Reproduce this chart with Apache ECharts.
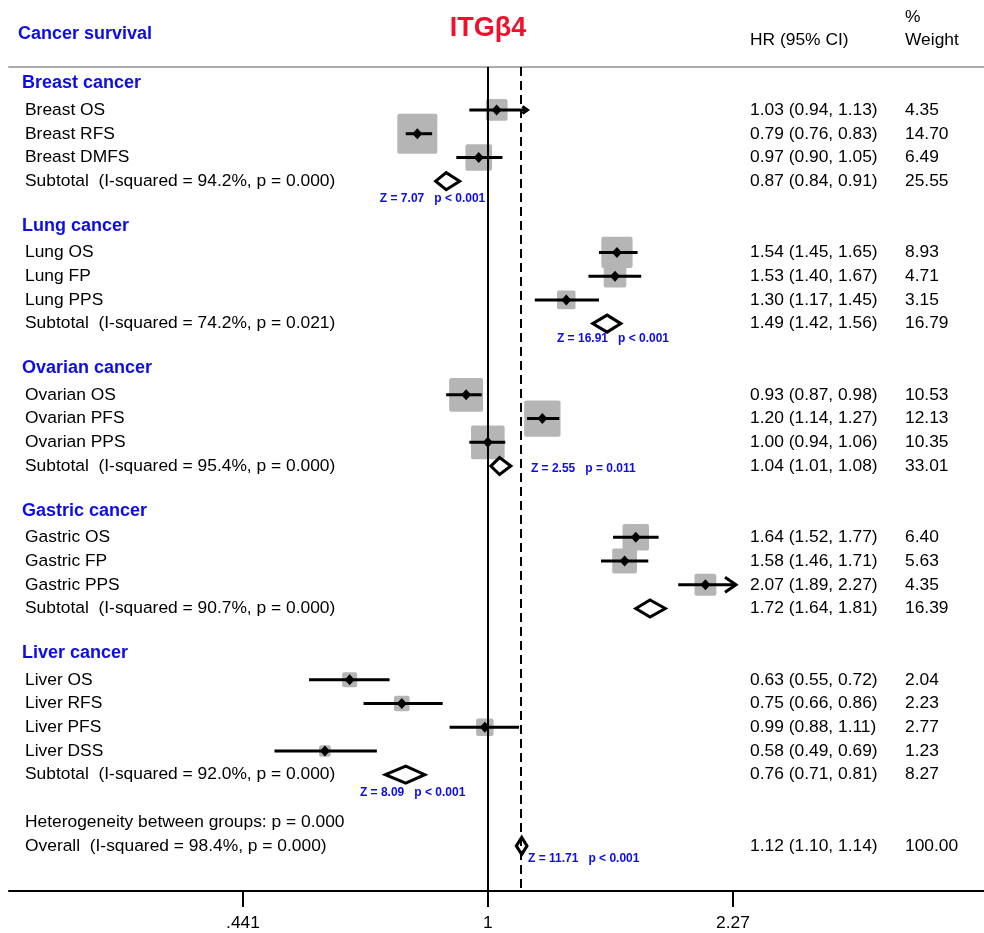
<!DOCTYPE html>
<html>
<head>
<meta charset="utf-8">
<script src="https://cdn.jsdelivr.net/npm/echarts@6/dist/echarts.min.js"></script>
<style>
html,body{margin:0;padding:0;background:#fff;}
#chart{width:984px;height:933px;}
</style>
</head>
<body>
<div id="chart"></div>
<script>
// ---------------- DATA ----------------
const groupNames = ['Breast cancer', 'Lung cancer', 'Ovarian cancer', 'Gastric cancer', 'Liver cancer'];
const studyNames = ['Breast OS', 'Breast RFS', 'Breast DMFS',
  'Lung OS', 'Lung FP', 'Lung PPS',
  'Ovarian OS', 'Ovarian PFS', 'Ovarian PPS',
  'Gastric OS', 'Gastric FP', 'Gastric PPS',
  'Liver OS', 'Liver RFS', 'Liver PFS', 'Liver DSS'];
const studyGroup = [0, 0, 0, 1, 1, 1, 2, 2, 2, 3, 3, 3, 4, 4, 4, 4];
const studyHR = [1.03, 0.79, 0.97, 1.54, 1.53, 1.30, 0.93, 1.20, 1.00, 1.64, 1.58, 2.07, 0.63, 0.75, 0.99, 0.58];
const studyLow = [0.94, 0.76, 0.90, 1.45, 1.40, 1.17, 0.87, 1.14, 0.94, 1.52, 1.46, 1.89, 0.55, 0.66, 0.88, 0.49];
const studyHigh = [1.13, 0.83, 1.05, 1.65, 1.67, 1.45, 0.98, 1.27, 1.06, 1.77, 1.71, 2.27, 0.72, 0.86, 1.11, 0.69];
const studyWeight = [4.35, 14.70, 6.49, 8.93, 4.71, 3.15, 10.53, 12.13, 10.35, 6.40, 5.63, 4.35, 2.04, 2.23, 2.77, 1.23];

const subtotalHR = [0.87, 1.49, 1.04, 1.72, 0.76];
const subtotalLow = [0.84, 1.42, 1.01, 1.64, 0.71];
const subtotalHigh = [0.91, 1.56, 1.08, 1.81, 0.81];
const subtotalWeight = [25.55, 16.79, 33.01, 16.39, 8.27];
const subtotalI2 = ['94.2%', '74.2%', '95.4%', '90.7%', '92.0%'];
const subtotalP = ['0.000', '0.021', '0.000', '0.000', '0.000'];
const subtotalZ = ['Z = 7.07   p < 0.001', 'Z = 16.91   p < 0.001', 'Z = 2.55   p = 0.011', '', 'Z = 8.09   p < 0.001'];

const heterogeneityP = '0.000';
const overallHR = 1.12, overallLow = 1.10, overallHigh = 1.14, overallWeight = 100.00;
const overallI2 = '98.4%', overallP = '0.000';
const overallZ = 'Z = 11.71   p < 0.001';

const tickValues = [0.441, 1, 2.27];
const tickLabels = ['.441', '1', '2.27'];
const arrowStudies = ['Breast OS', 'Gastric PPS'];

// ---------------- LAYOUT (not data) ----------------
const FONT = "'Liberation Sans', Arial, sans-serif";
const BLUE = '#0c0ce8';
const RED = '#f0102c';
const X_MIN = -1.601, X_MAX = 1.659;     // ln(HR) range of the plot area
const Y_MIN = -0.81, Y_MAX = 33.9;       // row range
const SQUARE_SCALE = 10.45;               // px per sqrt(weight)
const zAnchors = [ {hr: 0.697, dy: 0.72}, {hr: 1.26, dy: 0.63}, {hr: 1.155, dy: 0.13}, null, {hr: 0.652, dy: 0.76} ];
const overallZAnchor = {hr: 1.144, dy: 0.55};
const HR_COL_X = 750, W_COL_X = 905;
const BODY_SIZE = 17.4;

// ---------------- BUILD ROWS ----------------
const fmt = v => v.toFixed(2);
const rows = [];
let r = 0;
groupNames.forEach((g, gi) => {
  rows.push({row: r++, kind: 'group', label: g});
  studyNames.forEach((n, si) => {
    if (studyGroup[si] === gi) {
      rows.push({row: r++, kind: 'study', label: n, hr: studyHR[si], lo: studyLow[si], hi: studyHigh[si], w: studyWeight[si], arrow: arrowStudies.indexOf(n)});
    }
  });
  rows.push({row: r++, kind: 'subtotal', label: 'Subtotal  (I-squared = ' + subtotalI2[gi] + ', p = ' + subtotalP[gi] + ')',
    hr: subtotalHR[gi], lo: subtotalLow[gi], hi: subtotalHigh[gi], w: subtotalWeight[gi], z: subtotalZ[gi], za: zAnchors[gi]});
  r++;
});
rows.push({row: r++, kind: 'text', label: 'Heterogeneity between groups: p = ' + heterogeneityP});
rows.push({row: r++, kind: 'overall', label: 'Overall  (I-squared = ' + overallI2 + ', p = ' + overallP + ')',
  hr: overallHR, lo: overallLow, hi: overallHigh, w: overallWeight, z: overallZ, za: overallZAnchor});

const L = Math.log;
const rowData = rows.map((o, i) => [o.hr ? L(o.hr) : 0, o.row, i]);
const studyData = rows.filter(o => o.kind === 'study').map(o => [L(o.hr), o.row, L(o.lo), L(o.hi), o.w, o.arrow]);
const diamondData = rows.filter(o => o.kind === 'subtotal' || o.kind === 'overall').map(o => [L(o.hr), o.row, L(o.lo), L(o.hi), o.kind === 'overall' ? 1 : 0]);

// ---------------- RENDERERS ----------------
function renderSquare(params, api) {
  const c = api.coord([api.value(0), api.value(1)]);
  const s = SQUARE_SCALE * Math.sqrt(api.value(4));
  return {type: 'rect', shape: {x: c[0] - s / 2, y: c[1] - s / 2, width: s, height: s, r: 2}, style: {fill: '#b5b5b5'}};
}
function renderCI(params, api) {
  const y = api.value(1);
  const a = api.coord([api.value(2), y]);
  const b = api.coord([api.value(3), y]);
  const m = api.coord([api.value(0), y]);
  const children = [
    {type: 'line', shape: {x1: a[0], y1: a[1], x2: b[0], y2: b[1]}, style: {stroke: '#000', lineWidth: 3}},
    {type: 'polygon', shape: {points: [[m[0] - 5, m[1]], [m[0], m[1] - 5.5], [m[0] + 5, m[1]], [m[0], m[1] + 5.5]]}, style: {fill: '#000'}}
  ];
  const arrow = api.value(5);
  if (arrow >= 0) {
    const hx = arrow === 0 ? 5 : 11, hy = arrow === 0 ? 3.5 : 7.5;
    const tip = b[0] + 3;
    children.push({type: 'line', shape: {x1: b[0], y1: b[1], x2: tip, y2: b[1]}, style: {stroke: '#000', lineWidth: 3}});
    children.push({type: 'polyline', shape: {points: [[tip - hx, b[1] - hy], [tip, b[1]], [tip - hx, b[1] + hy]]}, style: {stroke: '#000', lineWidth: 3, fill: null}});
  }
  return {type: 'group', children: children};
}
function renderDiamond(params, api) {
  const y = api.value(1);
  const a = api.coord([api.value(2), y]);
  const b = api.coord([api.value(3), y]);
  const m = api.coord([api.value(0), y]);
  const h = 8.5;
  return {type: 'polygon', shape: {points: [[a[0], a[1]], [m[0], m[1] - h], [b[0], b[1]], [m[0], m[1] + h]]},
    style: {fill: api.value(4) ? 'rgba(255,255,255,0)' : '#fff', stroke: '#000', lineWidth: 3, lineJoin: 'miter'}};
}
function txt(x, y, text, opt) {
  return {type: 'text', x: x, y: y, style: Object.assign({text: text, fill: '#000', fontSize: BODY_SIZE, fontFamily: FONT, align: 'left', verticalAlign: 'middle'}, opt || {})};
}
function renderText(params, api) {
  const o = rows[api.value(2)];
  const c = api.coord([X_MIN, o.row]);
  const y = c[1];
  const children = [];
  if (o.kind === 'group') {
    children.push(txt(22, y - 3, o.label, {fill: BLUE, fontWeight: 'bold', fontSize: 18}));
  } else {
    children.push(txt(25, y, o.label));
  }
  if (o.hr) {
    children.push(txt(HR_COL_X, y, fmt(o.hr) + ' (' + fmt(o.lo) + ', ' + fmt(o.hi) + ')'));
    children.push(txt(W_COL_X, y, fmt(o.w)));
  }
  if (o.z && o.za) {
    const zc = api.coord([L(o.za.hr), o.row + o.za.dy]);
    children.push(txt(zc[0], zc[1], o.z, {fill: BLUE, fontWeight: 'bold', fontSize: 12}));
  }
  return {type: 'group', children: children};
}

// ---------------- CHART ----------------
const chart = echarts.init(document.getElementById('chart'), null, {renderer: 'canvas'});
const tickLn = tickValues.map(v => L(v));
chart.setOption({
  animation: false,
  backgroundColor: '#fff',
  grid: {left: 9, right: 0, top: 67, bottom: 42, containLabel: false},
  graphic: [
    {type: 'text', x: 18, y: 34, style: {text: 'Cancer survival', fill: BLUE, fontSize: 18, fontWeight: 'bold', fontFamily: FONT, verticalAlign: 'middle'}},
    {type: 'text', x: 488, y: 29, style: {text: 'ITGβ4', fill: RED, fontSize: 27, fontWeight: 'bold', fontFamily: FONT, align: 'center', verticalAlign: 'middle'}},
    {type: 'text', x: HR_COL_X, y: 40, style: {text: 'HR (95% CI)', fill: '#000', fontSize: BODY_SIZE, fontFamily: FONT, verticalAlign: 'middle'}},
    {type: 'text', x: W_COL_X, y: 17, style: {text: '%', fill: '#000', fontSize: BODY_SIZE, fontFamily: FONT, verticalAlign: 'middle'}},
    {type: 'text', x: W_COL_X, y: 40, style: {text: 'Weight', fill: '#000', fontSize: BODY_SIZE, fontFamily: FONT, verticalAlign: 'middle'}}
  ],
  xAxis: [
    {
      type: 'value', min: X_MIN, max: X_MAX, position: 'bottom',
      axisLine: {onZero: false, lineStyle: {color: '#000', width: 2}},
      axisTick: {show: true, customValues: tickLn, length: 16, lineStyle: {color: '#000', width: 2}},
      axisLabel: {customValues: tickLn, margin: 24, fontSize: BODY_SIZE, fontFamily: FONT, color: '#000',
        formatter: v => { const k = tickLn.findIndex(t => Math.abs(t - v) < 1e-6); return k >= 0 ? tickLabels[k] : ''; }},
      splitLine: {show: false}
    },
    {
      type: 'value', min: X_MIN, max: X_MAX, position: 'top',
      axisLine: {onZero: false, lineStyle: {color: '#acacac', width: 2}},
      axisTick: {show: false}, axisLabel: {show: false}, splitLine: {show: false}
    }
  ],
  yAxis: {type: 'value', inverse: true, min: Y_MIN, max: Y_MAX, show: false, splitLine: {show: false}},
  series: [
    {
      type: 'line', data: [], z: 1, silent: true,
      markLine: {
        silent: true, symbol: 'none', label: {show: false}, animation: false,
        data: [
          {xAxis: 0, lineStyle: {color: '#000', width: 2, type: 'solid'}},
          {xAxis: L(overallHR), lineStyle: {color: '#000', width: 2, type: [9, 5]}}
        ]
      }
    },
    {type: 'custom', z: 2, clip: false, renderItem: renderSquare, data: studyData, silent: true},
    {type: 'custom', z: 3, clip: false, renderItem: renderCI, data: studyData, silent: true},
    {type: 'custom', z: 3, clip: false, renderItem: renderDiamond, data: diamondData, silent: true},
    {type: 'custom', z: 4, clip: false, renderItem: renderText, data: rowData, silent: true}
  ]
});
</script>
</body>
</html>
